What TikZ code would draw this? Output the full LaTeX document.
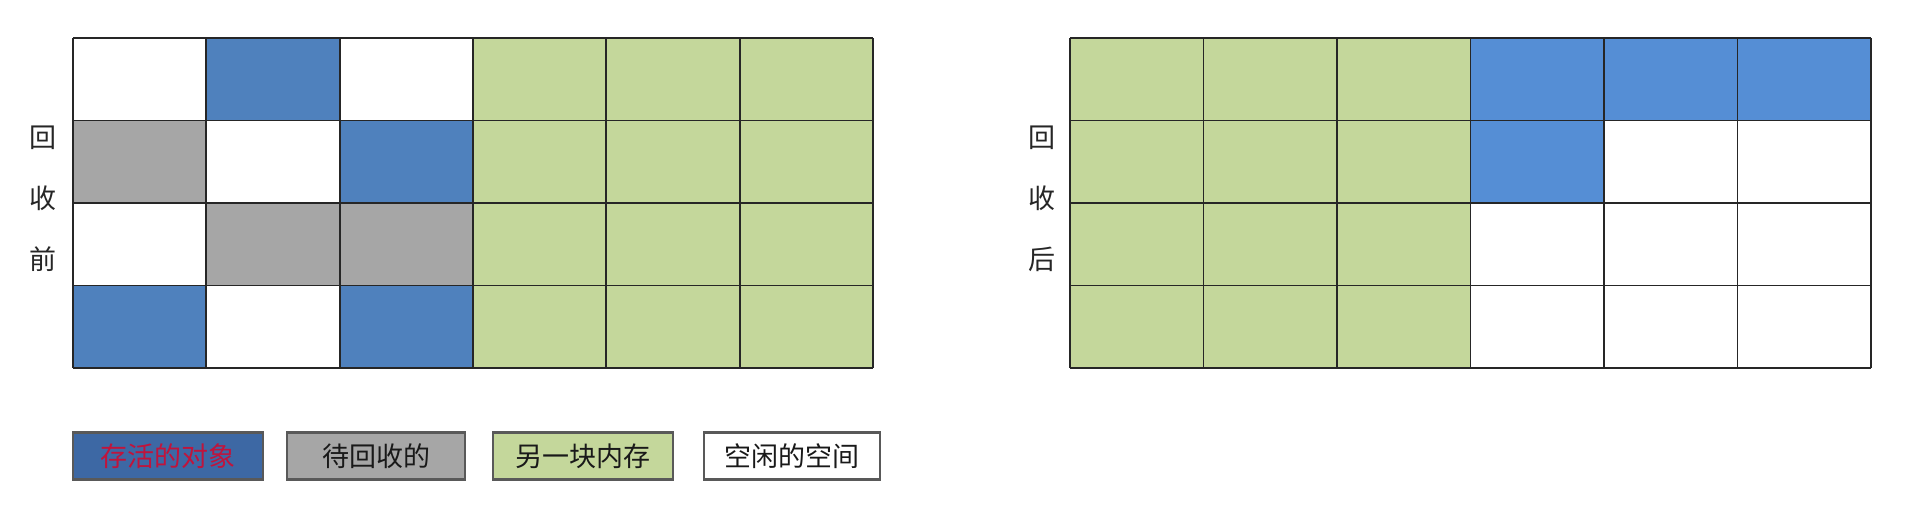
\documentclass[tikz,border=0pt]{standalone}
\usepackage{fontspec}
\newfontfamily\cjk{Noto Sans CJK SC}
\definecolor{liveblue}{HTML}{4F81BD}
\definecolor{movedblue}{HTML}{558ED5}
\definecolor{legendblue}{HTML}{3D68A4}
\definecolor{deadgray}{HTML}{A6A6A6}
\definecolor{spacegreen}{HTML}{C4D79B}
\definecolor{legendred}{HTML}{C0143C}

\begin{document}
\begin{tikzpicture}[x=1pt,y=-1pt,
  cellline/.style={line width=1.8pt,draw=black!85},
  sidelabel/.style={font=\cjk\fontsize{27}{61}\selectfont,align=center,text=black!85},
  legendbox/.style={draw=black!65,line width=2.2pt,minimum height=47pt,inner sep=0pt,
    font=\cjk\fontsize{27}{30}\selectfont,text=black!90}]
  \useasboundingbox (0,0) rectangle (1910,504);

  % before collection
  \foreach \c [count=\k from 0] in {white,liveblue,white,spacegreen,spacegreen,spacegreen,
        deadgray,white,liveblue,spacegreen,spacegreen,spacegreen,
        white,deadgray,deadgray,spacegreen,spacegreen,spacegreen,
        liveblue,white,liveblue,spacegreen,spacegreen,spacegreen}
	{
	\pgfmathtruncatemacro\row{floor(\k/6)}
	\pgfmathtruncatemacro\col{mod(\k,6)}
	\fill [\c] ({73 + \col*133.33},{38 + \row*82.5}) rectangle ++(133.33,82.5);
	}
  \foreach \x in {0,...,6}
	\draw [cellline] ({73 + \x*133.33},38) -- ++(0,330);
  \foreach \y in {0,...,4}
	\draw [cellline] (73,{38 + \y*82.5}) -- ++(800,0);
  \node[sidelabel] (before) at (43,199) {回\\收\\前};

  % after collection
  \foreach \c [count=\k from 0] in {spacegreen,spacegreen,spacegreen,movedblue,movedblue,movedblue,
        spacegreen,spacegreen,spacegreen,movedblue,white,white,
        spacegreen,spacegreen,spacegreen,white,white,white,
        spacegreen,spacegreen,spacegreen,white,white,white}
	{
	\pgfmathtruncatemacro\row{floor(\k/6)}
	\pgfmathtruncatemacro\col{mod(\k,6)}
	\fill [\c] ({1070 + \col*133.5},{38 + \row*82.5}) rectangle ++(133.5,82.5);
	}
  \foreach \x in {0,...,6}
	\draw [cellline] ({1070 + \x*133.5},38) -- ++(0,330);
  \foreach \y in {0,...,4}
	\draw [cellline] (1070,{38 + \y*82.5}) -- ++(801,0);
  \node[sidelabel] (after) at (1042,199) {回\\收\\后};

  % legend
  \node[legendbox,fill=legendblue,text=legendred,minimum width=190pt] (live) at (168,456) {存活的对象};
  \node[legendbox,fill=deadgray,minimum width=178pt] (dead) at (376,456) {待回收的};
  \node[legendbox,fill=spacegreen,minimum width=180pt] (other) at (583,456) {另一块内存};
  \node[legendbox,fill=white,minimum width=176pt] (free) at (792,456) {空闲的空间};
\end{tikzpicture}
\end{document}
